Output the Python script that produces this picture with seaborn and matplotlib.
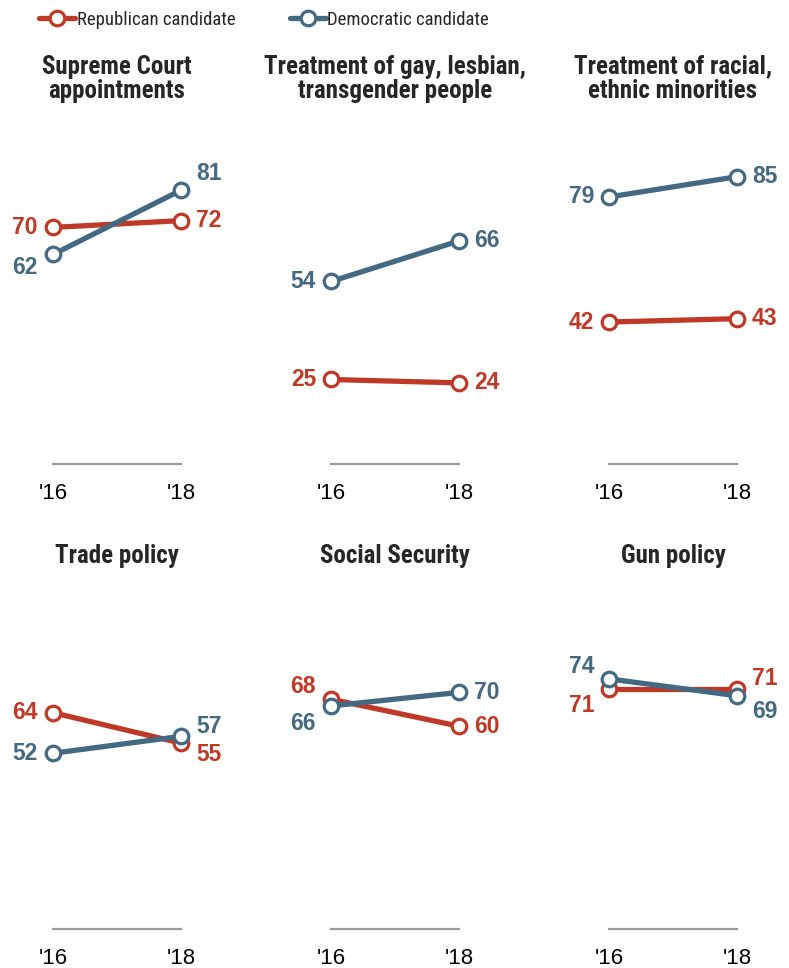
import matplotlib
matplotlib.use("Agg")
import matplotlib.pyplot as plt
from matplotlib.lines import Line2D
import pandas as pd
import seaborn as sns

sns.set_style("white")
plt.rcParams["font.family"] = ["Liberation Sans", "DejaVu Sans"]
COND = ["Roboto Condensed", "Liberation Sans Narrow", "Liberation Sans", "DejaVu Sans"]

REP_COLOR = "#bf3927"
DEM_COLOR = "#436983"

topics = [
    "Supreme Court\nappointments",
    "Treatment of gay, lesbian,\ntransgender people",
    "Treatment of racial,\nethnic minorities",
    "Trade policy",
    "Social Security",
    "Gun policy",
]
years = ["'16", "'18"]
rep_2016 = [70, 25, 42, 64, 68, 71]
rep_2018 = [72, 24, 43, 55, 60, 71]
dem_2016 = [62, 54, 79, 52, 66, 74]
dem_2018 = [81, 66, 85, 57, 70, 69]

# vertical nudges (pixels, up is positive) for labels that would collide
NUDGE = {
    (0, "Dem", 0): -13, (0, "Dem", 1): 17,
    (3, "Dem", 1): 10, (3, "Rep", 1): -11,
    (4, "Rep", 0): 13, (4, "Dem", 0): -18,
    (5, "Dem", 0): 12, (5, "Rep", 0): -16,
    (5, "Rep", 1): 11, (5, "Dem", 1): -16,
}

W, H = 789, 968
fig = plt.figure(figsize=(W / 100, H / 100), dpi=100)

x_left = [53, 331, 609]
px_per_unit = 128
row_bottom = [464, 929]
row_top = [126, 591]

for i, topic in enumerate(topics):
    row, col = divmod(i, 3)
    left_px = x_left[col] - 0.35 * px_per_unit
    width_px = 1.7 * px_per_unit
    ax = fig.add_axes([
        left_px / W,
        1 - row_bottom[row] / H,
        width_px / W,
        (row_bottom[row] - row_top[row]) / H,
    ])
    df = pd.DataFrame({
        "x": [0, 1, 0, 1],
        "value": [rep_2016[i], rep_2018[i], dem_2016[i], dem_2018[i]],
        "party": ["Rep", "Rep", "Dem", "Dem"],
    })
    sns.lineplot(
        data=df, x="x", y="value", hue="party",
        palette={"Rep": REP_COLOR, "Dem": DEM_COLOR},
        hue_order=["Rep", "Dem"], marker="o", markersize=10.5,
        markerfacecolor="white", markeredgewidth=2.3, linewidth=3.8,
        legend=False, ax=ax,
    )
    for line in ax.lines:
        line.set_markeredgecolor(line.get_color())
        line.set_clip_on(False)
    for _, r in df.iterrows():
        color = REP_COLOR if r["party"] == "Rep" else DEM_COLOR
        dy = NUDGE.get((i, r["party"], int(r["x"])), 0)
        dx = -15 if r["x"] == 0 else 15
        ax.annotate(
            f"{int(r['value'])}", (r["x"], r["value"]),
            xytext=(dx * 0.72, dy * 0.72), textcoords="offset points",
            ha="right" if r["x"] == 0 else "left", va="center",
            fontsize=16.5, fontweight="bold", color=color,
        )
    ax.set_xlim(-0.35, 1.35)
    ax.set_ylim(0, 100)
    ax.set_xticks([0, 1])
    ax.set_xticklabels(years, fontsize=16)
    ax.tick_params(axis="x", length=0, pad=14, colors="black")
    ax.set_yticks([])
    ax.set_xlabel("")
    ax.set_ylabel("")
    for side in ["top", "left", "right"]:
        ax.spines[side].set_visible(False)
    ax.spines["bottom"].set_color("#9a9a9a")
    ax.spines["bottom"].set_linewidth(1.6)
    ax.spines["bottom"].set_bounds(0, 1)
    ax.set_title(
        topic, fontsize=18, fontweight="bold", pad=20.5,
        family=COND, linespacing=1.0,
    )

handles = [
    Line2D([], [], color=REP_COLOR, lw=3.8, marker="o", markersize=10.5,
           markerfacecolor="white", markeredgewidth=2.3),
    Line2D([], [], color=DEM_COLOR, lw=3.8, marker="o", markersize=10.5,
           markerfacecolor="white", markeredgewidth=2.3),
]
fig.legend(
    handles, ["Republican candidate", "Democratic candidate"],
    loc="center", bbox_to_anchor=(0.335, 1 - 20 / H), ncol=2, frameon=False,
    handlelength=1.9, handletextpad=0.1, columnspacing=2.9,
    prop={"family": COND, "size": 13.5},
)

fig.savefig("out.png", dpi=100)
